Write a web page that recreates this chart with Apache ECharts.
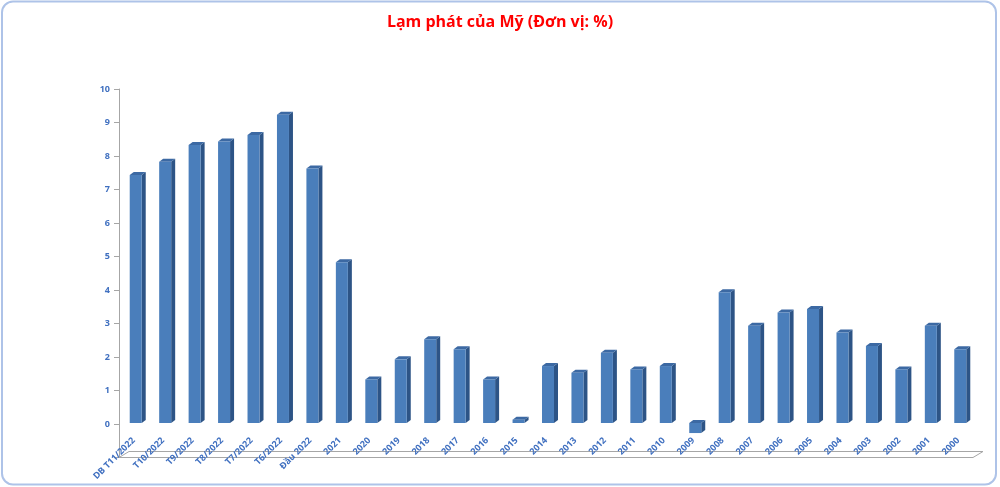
<!DOCTYPE html>
<html>
<head>
<meta charset="utf-8">
<script src="https://cdn.jsdelivr.net/npm/echarts@6/dist/echarts.min.js"></script>
<style>
html,body{margin:0;padding:0;background:#fff;}
#c{width:1000px;height:487px;}
</style>
</head>
<body>
<div id="c"></div>
<script>
const categories = ['DB T11/2022','T10/2022','T9/2022','T8/2022','T7/2022','T6/2022','Đầu 2022','2021','2020','2019','2018','2017','2016','2015','2014','2013','2012','2011','2010','2009','2008','2007','2006','2005','2004','2003','2002','2001','2000'];
const inflation = [7.4,7.8,8.3,8.4,8.6,9.2,7.6,4.8,1.3,1.9,2.5,2.2,1.3,0.1,1.7,1.5,2.1,1.6,1.7,-0.3,3.9,2.9,3.3,3.4,2.7,2.3,1.6,2.9,2.2];
const yTicks = [0,1,2,3,4,5,6,7,8,9,10];

const chart = echarts.init(document.getElementById('c'), null, {renderer:'canvas'});
const blueText = '#4070c0';

function renderBar(params, api){
  const idx = api.value(0);
  const v = api.value(1);
  const base = api.coord([idx, 0]);
  const top = api.coord([idx, v]);
  const w = 12, dx = 4, dy = 3;
  const x = base[0] - w/2 + 2;
  const y1 = Math.min(base[1], top[1]) - 1;
  const y2 = Math.max(base[1], top[1]) - 1;
  return {type:'group', children:[
    {type:'polygon', shape:{points:[[x+w,y1],[x+w+dx,y1-dy],[x+w+dx,y2-dy],[x+w,y2]]}, style:{fill:'#2d5486'}},
    {type:'polygon', shape:{points:[[x,y1],[x+dx,y1-dy],[x+w+dx,y1-dy],[x+w,y1]]}, style:{fill:'#3c69a3'}},
    {type:'rect', shape:{x:x, y:y1, width:w, height:Math.max(y2-y1,1)}, style:{fill:'#4a7ebb'}}
  ]};
}

const option = {
  backgroundColor:'#ffffff',
  animation:false,
  title:{
    text:'Lạm phát của Mỹ (Đơn vị: %)',
    left:'center', top:9,
    textStyle:{color:'#ff0000', fontSize:16, fontWeight:'bold', fontFamily:'Open Sans'}
  },
  grid:{left:119, right:27, top:89, bottom:29.5, containLabel:false, outerBoundsMode:'none'},
  xAxis:[{
    type:'category', data:categories, position:'bottom', offset:0,
    axisLine:{show:false, onZero:false},
    axisTick:{show:false},
    axisLabel:{rotate:45, interval:0, margin:15, color:blueText, fontSize:9, fontFamily:'Open Sans', fontWeight:'bold'}
  }],
  yAxis:{
    type:'value', min:-1, max:10, interval:1,
    splitLine:{show:false},
    axisLine:{show:true, onZero:false, lineStyle:{color:'#a6a6a6', width:1}},
    axisTick:{show:true, length:5, lineStyle:{color:'#a6a6a6'}},
    axisLabel:{color:blueText, fontSize:9, fontFamily:'Open Sans', fontWeight:'bold', margin:9,
      formatter:function(v){ return yTicks.indexOf(v) >= 0 ? String(v) : ''; }}
  },
  series:[{
    type:'custom',
    renderItem:renderBar,
    data:inflation.map((v,i)=>[i,v]),
    encode:{x:0,y:1}
  }]
};
chart.setOption(option);

// lift the category labels to the zero line; floor + card border (decoration), derived from the axis scale
const p0 = chart.convertToPixel({xAxisIndex:0,yAxisIndex:0},[0,0]);
const pL = chart.convertToPixel({xAxisIndex:0,yAxisIndex:0},[0,-1]);
const pR = chart.convertToPixel({xAxisIndex:0,yAxisIndex:0},[categories.length-1,-1]);
const band = (pR[0]-pL[0])/(categories.length-1);
const fx0 = pL[0]-band/2, fx1 = pR[0]+band/2, fy = pL[1];
chart.setOption({
  xAxis:[{offset: -(pL[1]-p0[1])}],
  graphic:[
    {type:'polygon', silent:true, shape:{points:[[fx0,fy],[fx0+10,fy-6],[fx1+10,fy-6],[fx1,fy]]},
      style:{fill:'none', stroke:'#a6a6a6', lineWidth:1}},
    {type:'rect', silent:true, shape:{x:2, y:1.5, width:994, height:483, r:11},
      style:{fill:'none', stroke:'#aec3e8', lineWidth:2}}
  ]
});
</script>
</body>
</html>
